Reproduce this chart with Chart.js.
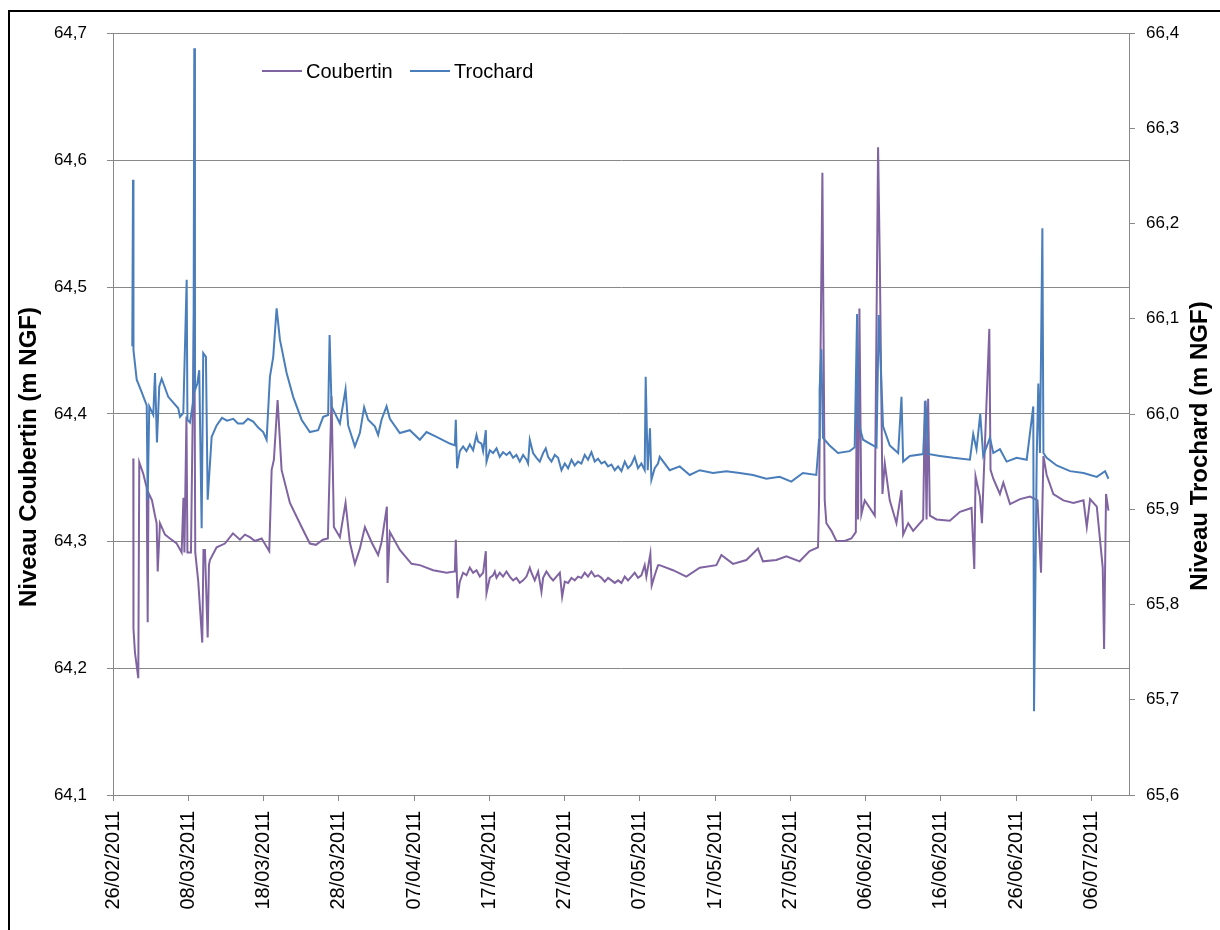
<!DOCTYPE html>
<html>
<head>
<meta charset="utf-8">
<title>Niveaux Coubertin / Trochard</title>
<script src="https://cdn.jsdelivr.net/npm/chart.js@4.4.0/dist/chart.umd.min.js"></script>
<style>
  html, body { margin:0; padding:0; background:#fff; }
  #wrap { width:1220px; height:930px; position:relative; }
</style>
</head>
<body>
<div id="wrap"><canvas id="chart" width="1220" height="930"></canvas></div>
<script>
// --- data (days since 26/02/2011) ---
const seriesNames = ['Coubertin', 'Trochard'];
const dateLabels = ['26/02/2011','08/03/2011','18/03/2011','28/03/2011','07/04/2011','17/04/2011','27/04/2011',
  '07/05/2011','17/05/2011','27/05/2011','06/06/2011','16/06/2011','26/06/2011','06/07/2011'];

const couDays = [2.70,2.72,2.92,3.36,3.49,4.02,4.48,4.61,4.71,5.18,
  5.58,5.80,5.94,6.24,6.91,7.57,8.46,9.12,9.36,9.49,
  9.76,9.89,10.36,10.80,10.93,11.33,11.86,12.02,12.22,12.58,
  12.75,12.88,13.77,14.87,15.94,16.87,17.53,18.19,18.86,19.75,
  20.76,21.08,21.38,21.87,22.40,23.51,25.06,26.16,26.96,27.89,
  28.55,29.04,29.35,30.15,30.90,31.47,32.14,32.80,33.47,34.36,
  35.23,35.68,36.39,36.48,36.79,38.11,39.67,40.77,42.54,44.32,
  45.42,45.55,45.78,
  46.08,46.52,46.97,47.41,47.85,48.30,48.74,49.18,49.54,49.63,
  50.07,50.50,50.73,50.96,51.39,51.83,52.28,52.72,53.16,53.61,
  54.05,54.49,54.94,55.38,55.60,56.04,56.49,56.93,57.15,57.59,
  58.04,58.48,58.92,59.37,59.68,60.03,60.47,60.92,61.35,61.79,
  62.24,62.68,63.12,63.57,64.01,64.45,64.90,65.34,65.78,66.23,
  66.67,67.11,67.56,68.00,68.43,68.88,69.32,69.76,70.21,70.65,
  70.87,71.40,71.58,71.98,72.42,
  72.64,74.41,76.18,77.96,80.17,
  80.84,82.38,84.16,85.70,86.36,88.14,89.47,91.24,92.56,93.68,
  93.81,94.26,94.57,94.79,95.46,96.12,97.22,98.11,98.70,98.87,
  99.00,99.18,99.44,99.89,100.56,101.22,101.66,101.89,102.24,102.55,
  103.21,104.10,104.77,104.99,105.66,106.32,107.65,107.88,108.10,108.31,
  108.54,109.43,111.19,112.54,114.08,114.44,114.61,115.19,115.46,116.44,
  116.60,116.97,117.85,118.30,119.19,120.52,121.85,122.84,123.31,123.63,
  124.06,124.95,126.28,127.62,128.95,129.39,129.83,130.72,131.51,131.69,
  131.95,132.27];
const couLevels = [64.365,64.231,64.212,64.192,64.362,64.353,64.342,64.236,64.338,64.332,
  64.320,64.314,64.276,64.314,64.305,64.302,64.298,64.291,64.334,64.291,
  64.398,64.291,64.291,64.498,64.291,64.268,64.220,64.293,64.293,64.224,
  64.281,64.285,64.295,64.298,64.306,64.301,64.305,64.303,64.300,64.302,
  64.292,64.356,64.364,64.411,64.356,64.330,64.311,64.298,64.297,64.301,
  64.302,64.414,64.311,64.303,64.330,64.299,64.282,64.294,64.311,64.299,
  64.289,64.299,64.327,64.267,64.307,64.293,64.282,64.281,64.277,64.275,
  64.276,64.301,64.255,
  64.268,64.275,64.273,64.279,64.275,64.277,64.272,64.275,64.292,64.259,
  64.271,64.273,64.276,64.271,64.275,64.272,64.276,64.272,64.269,64.271,
  64.267,64.269,64.272,64.279,64.275,64.269,64.276,64.260,64.271,64.276,
  64.272,64.269,64.272,64.275,64.256,64.268,64.267,64.271,64.269,64.272,
  64.271,64.275,64.272,64.276,64.272,64.273,64.271,64.268,64.271,64.269,
  64.267,64.269,64.267,64.272,64.269,64.272,64.275,64.271,64.273,64.281,
  64.272,64.290,64.265,64.273,64.281,
  64.281,64.277,64.272,64.279,64.281,
  64.289,64.282,64.285,64.294,64.284,64.285,64.288,64.284,64.292,64.295,
  64.329,64.590,64.332,64.314,64.308,64.300,64.300,64.302,64.307,64.451,
  64.317,64.483,64.321,64.332,64.326,64.320,64.610,64.519,64.337,64.361,
  64.332,64.314,64.340,64.305,64.314,64.308,64.317,64.410,64.317,64.412,
  64.320,64.317,64.316,64.323,64.326,64.278,64.351,64.335,64.314,64.467,
  64.356,64.349,64.337,64.346,64.329,64.333,64.335,64.332,64.275,64.367,
  64.352,64.337,64.332,64.330,64.332,64.311,64.333,64.327,64.279,64.215,
  64.337,64.324];

const troDays = [2.56,2.66,2.72,3.15,3.81,4.48,4.61,4.82,5.35,5.58,
  5.84,6.15,6.47,7.34,8.67,8.90,9.34,9.79,9.89,10.23,
  10.69,10.80,10.89,11.20,11.46,11.78,11.99,12.35,12.58,13.11,
  13.77,14.48,15.14,15.98,16.60,17.30,17.93,18.63,19.26,19.96,
  20.41,20.85,21.29,21.74,22.18,23.07,23.94,25.06,26.16,27.26,
  27.93,28.59,28.78,29.04,30.15,30.90,31.25,32.14,32.80,33.37,
  33.90,34.79,35.23,35.68,36.35,36.79,38.11,39.44,40.77,41.66,
  42.99,44.75,45.42,45.55,45.72,
  46.08,46.52,46.97,47.41,47.85,48.30,48.51,48.96,49.18,49.54,
  49.63,50.07,50.50,50.96,51.39,51.83,52.28,52.72,53.16,53.61,
  54.05,54.49,54.94,55.15,55.38,55.82,56.27,56.71,57.15,57.50,
  57.81,58.26,58.70,59.14,59.59,60.03,60.47,60.92,61.35,61.79,
  62.24,62.68,63.12,63.57,64.01,64.45,64.90,65.34,65.78,66.23,
  66.67,67.11,67.56,68.00,68.43,68.88,69.32,69.76,70.21,70.65,
  70.78,71.05,71.35,71.54,71.98,72.42,
  72.64,73.97,75.30,76.63,77.96,79.72,81.50,83.27,85.03,
  86.81,88.58,90.13,91.67,93.45,93.81,93.89,94.12,94.34,95.22,
  96.33,97.89,98.55,98.87,99.04,99.67,100.56,101.45,101.75,102.32,
  103.21,104.33,104.77,104.99,105.88,107.65,107.97,108.31,109.87,111.65,
  113.86,114.30,114.74,115.23,115.63,116.52,116.97,117.85,118.74,120.07,
  121.41,122.28,122.38,122.74,122.95,123.17,123.49,123.63,124.06,125.39,
  127.17,128.95,130.72,131.82,132.27];
const troLevels = [66.071,66.246,66.067,66.036,66.023,66.009,65.910,66.008,65.999,66.043,
  65.970,66.029,66.037,66.018,66.006,65.997,66.001,66.141,65.994,65.991,
  66.015,66.384,66.025,66.032,66.046,65.880,66.064,66.060,65.910,65.976,
  65.988,65.996,65.993,65.995,65.990,65.990,65.995,65.992,65.986,65.981,
  65.973,66.039,66.060,66.111,66.078,66.043,66.018,65.994,65.981,65.983,
  65.997,65.999,66.083,66.008,65.990,66.026,65.988,65.966,65.980,66.007,
  65.994,65.987,65.978,65.994,66.008,65.995,65.980,65.983,65.973,65.981,
  65.976,65.969,65.967,65.994,65.943,
  65.961,65.966,65.961,65.968,65.962,65.978,65.971,65.969,65.961,65.983,
  65.950,65.962,65.959,65.964,65.955,65.960,65.957,65.960,65.954,65.957,
  65.950,65.957,65.952,65.948,65.973,65.959,65.954,65.950,65.959,65.964,
  65.955,65.950,65.957,65.954,65.941,65.948,65.943,65.952,65.946,65.950,
  65.948,65.957,65.952,65.960,65.950,65.953,65.948,65.950,65.945,65.947,
  65.941,65.945,65.940,65.950,65.943,65.947,65.955,65.943,65.948,65.941,
  66.039,65.941,65.985,65.931,65.943,65.948,
  65.955,65.941,65.945,65.936,65.941,65.938,65.940,65.938,65.936,
  65.932,65.934,65.929,65.938,65.936,65.973,66.026,66.068,65.975,65.967,
  65.959,65.961,65.965,66.105,65.991,65.973,65.969,65.965,66.104,65.987,
  65.967,65.959,66.018,65.950,65.956,65.958,66.014,65.958,65.956,65.954,
  65.952,65.979,65.963,66.000,65.956,65.975,65.959,65.963,65.950,65.954,
  65.952,66.008,65.688,65.956,66.032,65.959,66.195,65.959,65.954,65.946,
  65.940,65.938,65.934,65.940,65.932];

const leftTitle = 'Niveau Coubertin (m NGF)';
const rightTitle = 'Niveau Trochard (m NGF)';

const FONT = '"Liberation Sans", Arial, sans-serif';
const COL_COU = '#8064A2', COL_TRO = '#4A7EBB', AXIS = '#888888';
const fmt = v => v.toFixed(1).replace('.', ',');

// frame, rotated axis titles and in-plot legend
const decorations = {
  id: 'decorations',
  afterDraw(chart){
    const ctx = chart.ctx;
    ctx.save();
    ctx.strokeStyle = '#000'; ctx.lineWidth = 2;
    ctx.strokeRect(9, 11, 1300, 1000);

    ctx.fillStyle = '#000';
    ctx.font = 'bold 24px ' + FONT;
    ctx.textAlign = 'center'; ctx.textBaseline = 'middle';
    [[29, 457, leftTitle], [1200, 446, rightTitle]].forEach(([x, y, t])=>{
      ctx.save(); ctx.translate(x, y); ctx.rotate(-Math.PI/2); ctx.fillText(t, 0, 0); ctx.restore();
    });

    ctx.font = '20px ' + FONT; ctx.textAlign = 'left';
    [[262, COL_COU, seriesNames[0]], [410, COL_TRO, seriesNames[1]]].forEach(([x, c, t])=>{
      ctx.strokeStyle = c; ctx.lineWidth = 2;
      ctx.beginPath(); ctx.moveTo(x, 71); ctx.lineTo(x + 40, 71); ctx.stroke();
      ctx.fillText(t, x + 44, 72);
    });
    ctx.restore();
  }
};

const toPoints = (days, vals) => days.map((d, i) => ({x: d, y: vals[i]}));

new Chart(document.getElementById('chart'), {
  type: 'line',
  data: {
    datasets: [
      {label: seriesNames[0], data: toPoints(couDays, couLevels), yAxisID: 'y', order: 1,
       borderColor: COL_COU, borderWidth: 2, pointRadius: 0, tension: 0, fill: false},
      {label: seriesNames[1], data: toPoints(troDays, troLevels), yAxisID: 'y1', order: 0,
       borderColor: COL_TRO, borderWidth: 2, pointRadius: 0, tension: 0, fill: false}
    ]
  },
  options: {
    responsive: false,
    devicePixelRatio: 1,
    animation: false,
    layout: {padding: {top: 33, left: 0, right: 0, bottom: 0}},
    plugins: {legend: {display: false}, tooltip: {enabled: false}},
    scales: {
      x: {
        type: 'linear', position: 'bottom', min: 0, max: 135,
        afterBuildTicks: s => { s.ticks = dateLabels.map((_, i) => ({value: i * 10})); },
        afterFit: s => { s.height = 135; },
        ticks: {autoSkip: false, minRotation: 90, maxRotation: 90, padding: 10, color: '#000',
          font: {family: FONT, size: 20}, callback: v => dateLabels[Math.round(v / 10)]},
        grid: {drawOnChartArea: false, tickLength: 6, color: AXIS},
        border: {color: AXIS}
      },
      y: {
        position: 'left', min: 64.1, max: 64.7,
        afterFit: s => { s.width = 113; },
        ticks: {stepSize: 0.1, padding: 20, color: '#000', font: {family: FONT, size: 17}, callback: fmt},
        grid: {color: AXIS, tickLength: 6},
        border: {color: AXIS}
      },
      y1: {
        position: 'right', min: 65.6, max: 66.4,
        afterFit: s => { s.width = 91; },
        ticks: {stepSize: 0.1, padding: 11, color: '#000', font: {family: FONT, size: 17}, callback: fmt},
        grid: {drawOnChartArea: false, color: AXIS, tickLength: 6},
        border: {color: AXIS}
      }
    }
  },
  plugins: [decorations]
});
</script>
</body>
</html>
